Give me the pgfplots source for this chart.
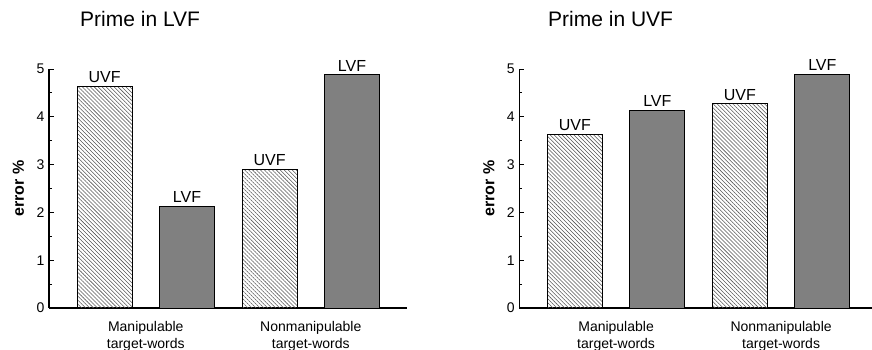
\documentclass[border=0pt]{standalone}
\usepackage{pgfplots}
\pgfplotsset{compat=1.18}
\usepackage{fontspec}
\setmainfont{Liberation Sans}
\usetikzlibrary{patterns.meta}
\definecolor{barfill}{RGB}{128,128,128}
\definecolor{hatch}{RGB}{85,85,85}

\pgfplotsset{
  panel/.style={
    scale only axis, width=358pt, height=239pt,
    anchor=south west,
    xmin=0.327, xmax=4.666, ymin=0, ymax=5,
    clip=false,
    axis x line*=bottom, axis y line*=left,
    axis line style={line width=1.1pt},
    ytick={0,1,2,3,4,5}, minor y tick num=1,
    tick align=inside,
    major tick length=4.5pt, minor tick length=3pt,
    tick style={line width=0.9pt, black},
    xtick={1.5,3.5},
    xticklabels={{Manipulable\\target-words},{Nonmanipulable\\target-words}},
    x tick style={draw=none},
    xticklabel style={align=center, font=\fontsize{14}{17}\selectfont, yshift=-5pt},
    yticklabel style={font=\fontsize{14}{16}\selectfont, xshift=-1pt},
    /pgf/number format/assume math mode=true,
    ylabel={error \%},
    ylabel style={font=\fontsize{16}{18}\selectfont\bfseries, at={(axis description cs:0,0.5)}, anchor=center, xshift=0pt, yshift=30.5pt},
    ybar, bar width=0.667,
    every node near coord/.append style={font=\fontsize{16}{18}\selectfont, black},
  },
  uvf/.style={draw=black, line width=0.8pt, bar shift=0pt,
    pattern={Lines[angle=-45,distance=2.8pt,line width=0.55pt]}, pattern color=hatch,
    nodes near coords={UVF}},
  lvf/.style={draw=black, line width=0.8pt, bar shift=0pt, fill=barfill,
    nodes near coords={LVF}},
}

\begin{document}
\begin{tikzpicture}
\useasboundingbox (0,0) rectangle (872pt,349pt);
% Left panel: Prime in LVF
\begin{axis}[panel, at={(49pt,41pt)}]
\addplot[uvf] coordinates {(1,4.64) (3,2.89)};
\addplot[lvf] coordinates {(2,2.13) (4,4.88)};
\end{axis}
% Right panel: Prime in UVF
\begin{axis}[panel, at={(519.3pt,41pt)}]
\addplot[uvf] coordinates {(1,3.64) (3,4.27)};
\addplot[lvf] coordinates {(2,4.14) (4,4.89)};
\end{axis}
\node[anchor=base west, font=\fontsize{21}{24}\selectfont, inner sep=0pt] at (80pt,322pt) {Prime in LVF};
\node[anchor=base west, font=\fontsize{21}{24}\selectfont, inner sep=0pt] at (548pt,322pt) {Prime in UVF};
\end{tikzpicture}
\end{document}
